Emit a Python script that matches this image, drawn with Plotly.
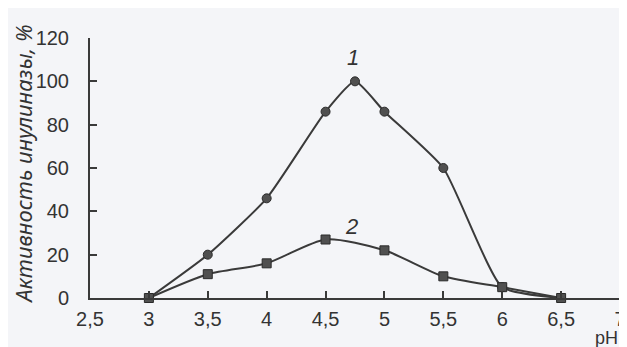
import plotly.graph_objects as go

# Data
ph_1 = [3.0, 3.5, 4.0, 4.5, 4.75, 5.0, 5.5, 6.0, 6.5]
activity_1 = [0, 20, 46, 86, 100, 86, 60, 5, 0]

ph_2 = [3.0, 3.5, 4.0, 4.5, 5.0, 5.5, 6.0, 6.5]
activity_2 = [0, 11, 16, 27, 22, 10, 5, 0]

x_tickvals = [2.5, 3.0, 3.5, 4.0, 4.5, 5.0, 5.5, 6.0, 6.5, 7.0]
x_ticktext = ["2,5", "3", "3,5", "4", "4,5", "5", "5,5", "6", "6,5", "7"]
y_tickvals = [0, 20, 40, 60, 80, 100, 120]

line_col = "#3a3a3a"
bg = "#f4f5f8"
tick_font = dict(family="Liberation Sans", size=20, color="#333")

fig = go.Figure()
fig.add_trace(go.Scatter(
    x=ph_1, y=activity_1, mode="lines+markers",
    line=dict(color=line_col, width=2, shape="spline", smoothing=0.5),
    marker=dict(symbol="circle", size=9, color="#505050", line=dict(color="#2a2a2a", width=1)),
    showlegend=False, cliponaxis=False,
))
fig.add_trace(go.Scatter(
    x=ph_2, y=activity_2, mode="lines+markers",
    line=dict(color=line_col, width=2, shape="spline", smoothing=0.7),
    marker=dict(symbol="square", size=9, color="#505050", line=dict(color="#2a2a2a", width=1)),
    showlegend=False, cliponaxis=False,
))

fig.update_layout(
    width=627, height=347,
    margin=dict(l=82, r=9, t=30, b=57),
    paper_bgcolor=bg, plot_bgcolor=bg,
    xaxis=dict(
        range=[2.5, 7.0], tickvals=x_tickvals, ticktext=x_ticktext,
        ticks="inside", ticklen=7, tickwidth=1.5, tickcolor=line_col,
        showline=True, linecolor=line_col, linewidth=2,
        showgrid=False, zeroline=False, tickfont=tick_font,
        ticklabeloverflow="allow", ticklabelstandoff=2,
    ),
    yaxis=dict(
        range=[0, 120], tickvals=y_tickvals,
        ticks="inside", ticklen=7, tickwidth=1.5, tickcolor=line_col,
        showline=True, linecolor=line_col, linewidth=2,
        showgrid=False, zeroline=False, tickfont=tick_font,
        ticklabeloverflow="allow", ticklabelstandoff=15,
    ),
    annotations=[
        dict(x=4.73, y=111, xref="x", yref="y", text="<i>1</i>", showarrow=False,
             font=dict(family="Liberation Sans", size=22, color="#333")),
        dict(x=4.72, y=33, xref="x", yref="y", text="<i>2</i>", showarrow=False,
             font=dict(family="Liberation Sans", size=22, color="#333")),
        dict(x=1.0, y=-0.155, xref="paper", yref="paper", text="pH", showarrow=False,
             xanchor="right", yanchor="middle",
             font=dict(family="Liberation Sans", size=18, color="#333")),
        dict(x=-0.127, y=0.515, xref="paper", yref="paper",
             text="<i>Активность инулиназы, %</i>", showarrow=False, textangle=-90,
             xanchor="center", yanchor="middle",
             font=dict(family="Noto Sans", size=22, color="#333")),
    ],
)

fig.write_html("out.html")
